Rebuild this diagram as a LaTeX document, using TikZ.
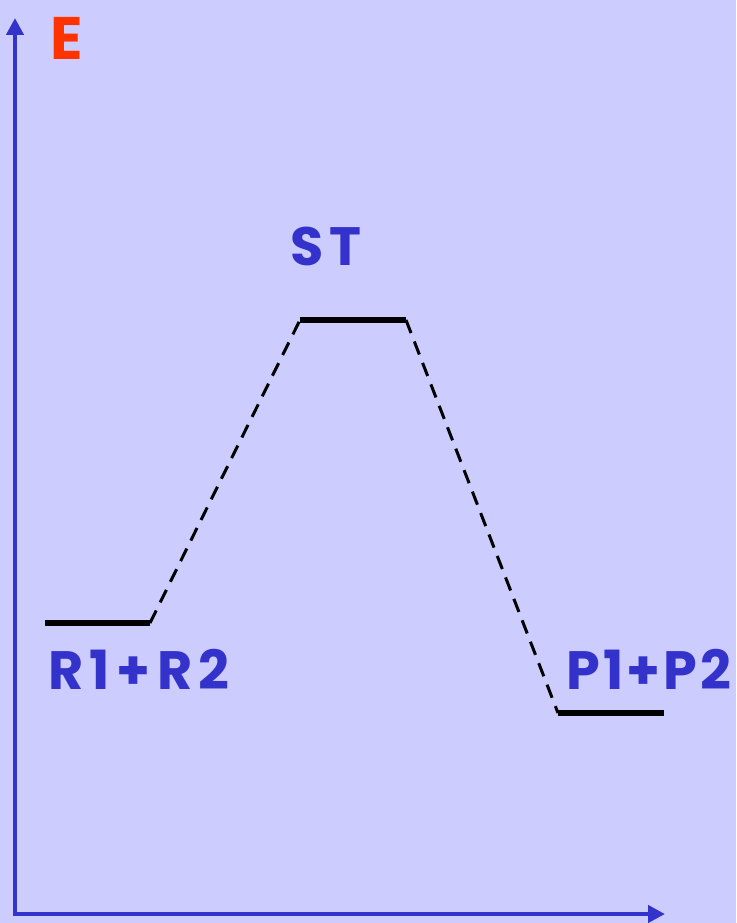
\documentclass[tikz,border=0pt]{standalone}
\usepackage{fontspec}
\setmainfont{Poppins}
\newfontfamily\lblfont{Poppins}[LetterSpace=12]
\newfontfamily\lblfontb{Poppins}[LetterSpace=6]
\usetikzlibrary{arrows.meta}
\definecolor{bg}{HTML}{CCCCFF}
\definecolor{axisblue}{HTML}{3333CC}
\definecolor{ered}{HTML}{FF3300}
\begin{document}
\begin{tikzpicture}[x=1pt,y=-1pt,
  axis/.style={axisblue,line width=4.5pt,-{Triangle[length=17pt,width=17pt]}},
  level/.style={line width=6pt},
  conn/.style={line width=3pt,dash pattern=on 14pt off 9pt},
  lbl/.style={text=axisblue,font=\lblfont\bfseries\fontsize{54}{54}\selectfont,inner sep=0pt},
  lblb/.style={text=axisblue,font=\lblfontb\bfseries\fontsize{54}{54}\selectfont,inner sep=0pt}]
\fill[bg] (0,0) rectangle (736,923);
\useasboundingbox (0,0) rectangle (736,923);
% axes
\coordinate (origin) at (15,914);
\coordinate (ytop) at (15,18);
\coordinate (xend) at (665,914);
\draw[axis] ([yshift=2pt]origin) -- (ytop);
\draw[axis] ([xshift=-2pt]origin) -- (xend);
\node[text=ered,font=\bfseries\fontsize{60}{60}\selectfont,inner sep=0pt] (E) at (67,38) {E};
% levels
\coordinate (r1) at (45,623); \coordinate (r2) at (150,623);
\coordinate (s1) at (300,320); \coordinate (s2) at (406,320);
\coordinate (p1) at (558,713); \coordinate (p2) at (664,713);
\draw[level] (r1) -- (r2);
\draw[level] (s1) -- (s2);
\draw[level] (p1) -- (p2);
\draw[conn] (r2) -- (s1);
\draw[conn] (s2) -- (p1);
\node[lbl] (ST) at (326,246) {ST};
\node[lbl] (R) at (139,669) {R1+R2};
\node[lblb] (P) at (649,669) {P1+P2};
\end{tikzpicture}
\end{document}
